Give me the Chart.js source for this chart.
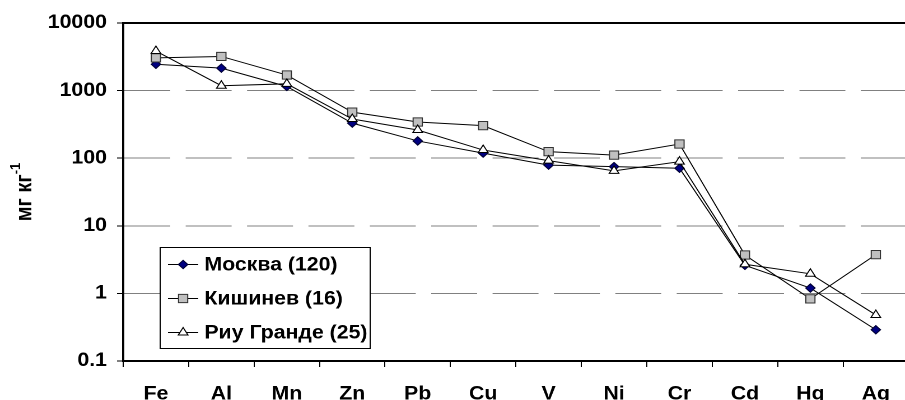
<!DOCTYPE html>
<html>
<head>
<meta charset="utf-8">
<script src="https://cdn.jsdelivr.net/npm/chart.js@4.4.1/dist/chart.umd.min.js"></script>
<style>
  html, body { margin: 0; padding: 0; background: #fff; overflow: hidden; }
  #wrap { width: 905px; height: 400px; overflow: hidden; position: relative; }
  /* the chart is laid out narrow and widened horizontally */
  #chart { display: block; transform: scaleX(1.12); transform-origin: 0 0; }
</style>
</head>
<body>
<div id="wrap"><canvas id="chart" width="818" height="400"></canvas></div>
<script>
// Elements along the x axis
const elements = ['Fe', 'Al', 'Mn', 'Zn', 'Pb', 'Cu', 'V', 'Ni', 'Cr', 'Cd', 'Hg', 'Ag'];

// Concentrations, mg/kg
const moscow    = [2450, 2150, 1150, 330, 180, 119, 79, 75, 71, 2.6, 1.2, 0.29];
const kishinev  = [3050, 3200, 1700, 480, 343, 303, 125, 111, 162, 3.7, 0.83, 3.75];
const rioGrande = [3850, 1180, 1260, 380, 261, 132, 92, 65, 89, 2.7, 1.95, 0.48];

const seriesNames = ['Москва (120)', 'Кишинев (16)', 'Риу Гранде (25)'];
const yTickValues = [0.1, 1, 10, 100, 1000, 10000];
const yTitleMain = 'мг кг';
const yTitleSup = '-1';

const FONT = "'Liberation Sans', Arial, sans-serif";
const GRID_DASH = [41, 13.8];

// Marker shapes shared by plot and legend
function drawMarker(ctx, style, x, y, r) {
  ctx.beginPath();
  if (style === 'rectRot') {
    ctx.moveTo(x - r, y); ctx.lineTo(x, y - r); ctx.lineTo(x + r, y); ctx.lineTo(x, y + r);
  } else if (style === 'rect') {
    const s = Math.SQRT1_2 * r;
    ctx.rect(x - s, y - s, 2 * s, 2 * s);
  } else if (style === 'triangle') {
    for (let k = 0; k < 3; k++) {
      const a = k * 2 * Math.PI / 3;
      const px = x + Math.sin(a) * r, py = y - Math.cos(a) * r;
      if (k === 0) ctx.moveTo(px, py); else ctx.lineTo(px, py);
    }
  }
  ctx.closePath();
  ctx.fill();
  ctx.stroke();
}

// Rotated axis title with a superscript
const yTitlePlugin = {
  id: 'yTitle',
  afterDraw(chart) {
    const ctx = chart.ctx;
    const ca = chart.chartArea;
    const cy = (ca.top + ca.bottom) / 2;
    ctx.save();
    ctx.translate(22.5, cy);
    ctx.rotate(-Math.PI / 2);
    ctx.fillStyle = '#000';
    ctx.textBaseline = 'middle';
    ctx.font = 'bold 20px ' + FONT;
    const wMain = ctx.measureText(yTitleMain).width;
    ctx.font = 'bold 13px ' + FONT;
    const wSup = ctx.measureText(yTitleSup).width;
    const x0 = -(wMain + wSup) / 2;
    ctx.font = 'bold 20px ' + FONT;
    ctx.textAlign = 'left';
    ctx.fillText(yTitleMain, x0, 0);
    ctx.font = 'bold 13px ' + FONT;
    ctx.fillText(yTitleSup, x0 + wMain, -8);
    ctx.restore();
  }
};

// Boxed legend inside the plot area, each key with a line through its marker
const boxLegendPlugin = {
  id: 'boxLegend',
  afterDraw(chart) {
    const ctx = chart.ctx;
    const ca = chart.chartArea;
    const left = ca.left + 33, top = ca.bottom - 114, w = 187.5, h = 101;
    ctx.save();
    ctx.fillStyle = '#fff';
    ctx.fillRect(left, top, w, h);
    ctx.strokeStyle = '#000';
    ctx.lineWidth = 1;
    ctx.strokeRect(left, top + 0.5, w, h);
    chart.data.datasets.forEach((ds, i) => {
      const cy = top + 17.5 + i * 34;
      ctx.strokeStyle = '#000';
      ctx.lineWidth = 1;
      ctx.beginPath();
      ctx.moveTo(left + 7, cy);
      ctx.lineTo(left + 34, cy);
      ctx.stroke();
      ctx.fillStyle = ds.pointBackgroundColor;
      ctx.strokeStyle = ds.pointBorderColor;
      drawMarker(ctx, ds.pointStyle, left + 20.5, cy, ds.pointRadius);
      ctx.fillStyle = '#000';
      ctx.font = 'bold 19px ' + FONT;
      ctx.textAlign = 'left';
      ctx.textBaseline = 'middle';
      ctx.fillText(ds.label, left + 39.5, cy + 1);
    });
    ctx.restore();
  }
};

const isTop = c => c.tick && c.tick.value === 10000;
const isBottom = c => c.tick && c.tick.value === 0.1;

new Chart(document.getElementById('chart'), {
  type: 'line',
  data: {
    labels: elements,
    datasets: [
      {
        label: seriesNames[0], data: moscow, order: 2,
        borderColor: '#000', borderWidth: 1, tension: 0,
        pointStyle: 'rectRot', pointRadius: 4.2,
        pointBackgroundColor: '#000080', pointBorderColor: '#000033', pointBorderWidth: 1
      },
      {
        label: seriesNames[1], data: kishinev, order: 1,
        borderColor: '#000', borderWidth: 1, tension: 0,
        pointStyle: 'rect', pointRadius: 5.8,
        pointBackgroundColor: '#C0C0C0', pointBorderColor: '#333333', pointBorderWidth: 1
      },
      {
        label: seriesNames[2], data: rioGrande, order: 0,
        borderColor: '#000', borderWidth: 1, tension: 0,
        pointStyle: 'triangle', pointRadius: 5,
        pointBackgroundColor: '#FFFFFF', pointBorderColor: '#000', pointBorderWidth: 1
      }
    ]
  },
  options: {
    responsive: false,
    animation: false,
    devicePixelRatio: 2,
    layout: { padding: { top: 23, left: 0, right: 2, bottom: 0 } },
    plugins: { legend: { display: false }, tooltip: { enabled: false } },
    elements: { point: { hoverRadius: 5 } },
    scales: {
      x: {
        type: 'category',
        offset: true,
        afterFit(scale) { scale.height = 39; },
        grid: {
          offset: true, drawOnChartArea: false, drawTicks: true,
          tickLength: 6, color: '#000', tickColor: '#000', lineWidth: 1
        },
        border: { display: true, color: '#000', width: 2 },
        ticks: {
          color: '#000', font: { family: FONT, size: 19, weight: 'bold' },
          padding: 16, maxRotation: 0, autoSkip: false
        }
      },
      y: {
        type: 'logarithmic',
        min: 0.1, max: 10000,
        afterFit(scale) { scale.width = 110; },
        afterBuildTicks(scale) { scale.ticks = yTickValues.map(v => ({ value: v })); },
        grid: {
          drawTicks: true, tickLength: 5.5,
          color: c => isBottom(c) ? 'rgba(0,0,0,0)' : (isTop(c) ? '#000' : '#808080'),
          lineWidth: c => isTop(c) ? 2 : 1,
          tickColor: '#000', tickWidth: 1
        },
        border: {
          display: true, color: '#000', width: 2,
          dash: c => isTop(c) ? [] : GRID_DASH
        },
        ticks: {
          color: '#000', font: { family: FONT, size: 19, weight: 'bold' },
          padding: 9,
          callback: v => String(v)
        }
      }
    }
  },
  plugins: [yTitlePlugin, boxLegendPlugin]
});
</script>
</body>
</html>
